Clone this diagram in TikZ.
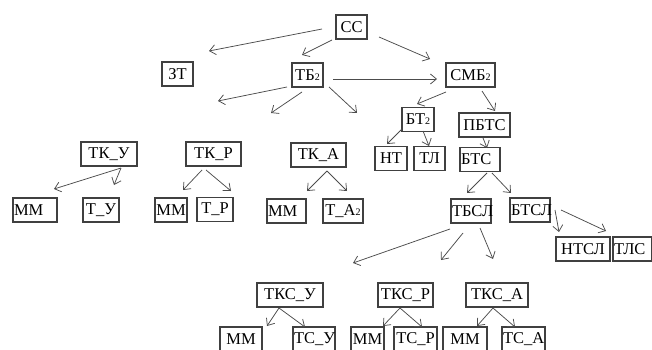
\documentclass[tikz,border=0pt]{standalone}
\usepackage{fontspec}
\setmainfont{Liberation Serif}
\usetikzlibrary{arrows.meta}
\newcommand{\subn}[1]{{\fontsize{10}{10}\selectfont #1}}

\begin{document}
\begin{tikzpicture}[x=1pt,y=-1pt,
    box/.style={draw=black!75,line width=1.2pt,inner xsep=1pt,inner ysep=0pt,minimum height=24pt,text width=#1-2pt,align=center,font=\fontsize{16.5}{16.5}\selectfont},
    lbox/.style={box=#1,align=left},
    arr/.style={draw=black!70,line width=0.75pt,-{Straight Barb[length=6pt,width=10pt]}}]
  \useasboundingbox (0,0) rectangle (652,350);
  \clip (0,0) rectangle (652,350);
  % boxes
  \node[box=31pt](cc) at (351.5,27){СС};
  \node[box=31pt](zt) at (177.5,74){ЗТ};
  \node[box=31pt](tb) at (307.5,75){ТБ\subn{2}};
  \node[box=49pt](smb) at (470.5,75){СМБ\subn{2}};
  \node[box=32pt](bt) at (418,119.5){БТ\subn{2}};
  \node[box=51pt](pbts) at (484.5,125){ПБТС};
  \node[box=32pt](nt) at (391,158.5){НТ};
  \node[box=31pt](tl) at (429.5,158.5){ТЛ};
  \node[lbox=40pt](bts) at (480,159.5){БТС};
  \node[box=56pt](tku) at (109,154){ТК\_У};
  \node[box=55pt](tkr) at (213.5,154){ТК\_Р};
  \node[box=55pt](tka) at (318.5,155){ТК\_А};
  \node[lbox=44pt](mm1) at (35,210){ММ};
  \node[box=36pt](tu) at (101,210){Т\_У};
  \node[box=32pt](mm2) at (171,210){ММ};
  \node[box=36pt](tr) at (215,209.5){Т\_Р};
  \node[lbox=39pt](mm3) at (286.5,211){ММ};
  \node[box=40pt](ta) at (343,211){Т\_А\subn{2}};
  \node[box=40pt](tbsl) at (471,211){ТБСЛ};
  \node[box=40pt](btsl) at (530,210){БТСЛ};
  \node[box=54pt](ntsl) at (583,249){НТСЛ};
  \node[lbox=39pt](tls) at (632.5,249){ТЛС};
  \node[box=66pt](tksu) at (290,295){ТКС\_У};
  \node[box=55pt](tksr) at (405.5,295){ТКС\_Р};
  \node[box=62pt](tksa) at (497,295){ТКС\_А};
  \node[box=42pt](mm4) at (241,339){ММ};
  \node[box=42pt](tsu) at (314,339){ТС\_У};
  \node[box=33pt](mm5) at (367.5,339){ММ};
  \node[box=43pt](tsr) at (415.5,339){ТС\_Р};
  \node[box=44pt](mm6) at (465,339){ММ};
  \node[box=43pt](tsa) at (523.5,339){ТС\_А};
  % arrow tips
  \coordinate (cc1) at (209,51);
  \coordinate (cc2) at (302,55);
  \coordinate (cc3) at (430,59);
  \coordinate (tb1) at (218,101);
  \coordinate (tb2) at (271,113);
  \coordinate (tb3) at (357,113);
  \coordinate (tb4) at (437,79);
  \coordinate (smb1) at (417,104);
  \coordinate (smb2) at (495,111);
  \coordinate (bt1) at (387,144);
  \coordinate (bt2) at (429,146);
  \coordinate (pbts1) at (487,148);
  \coordinate (tku1) at (54,189);
  \coordinate (tku2) at (114,185);
  \coordinate (tkr1) at (183,190);
  \coordinate (tkr2) at (231,191);
  \coordinate (tka1) at (307,191);
  \coordinate (tka2) at (347,191);
  \coordinate (bts1) at (467,193);
  \coordinate (bts2) at (511,193);
  \coordinate (tbsl1) at (353,263);
  \coordinate (tbsl2) at (441,260);
  \coordinate (tbsl3) at (493,259);
  \coordinate (btsl1) at (559,232);
  \coordinate (btsl2) at (606,231);
  \coordinate (tksu1) at (267,326);
  \coordinate (tksu2) at (305,327);
  \coordinate (tksr1) at (383,326);
  \coordinate (tksr2) at (422,327);
  \coordinate (tksa1) at (477,326);
  \coordinate (tksa2) at (515,327);
  % arrows
  \draw[arr] ([shift={(-29.5,2)}]cc.center) -- (cc1);
  \draw[arr] ([shift={(-19.5,13)}]cc.center) -- (cc2);
  \draw[arr] ([shift={(27.5,10)}]cc.center) -- (cc3);
  \draw[arr] ([shift={(-20.5,12)}]tb.center) -- (tb1);
  \draw[arr] ([shift={(-5.5,17)}]tb.center) -- (tb2);
  \draw[arr] ([shift={(21.5,12)}]tb.center) -- (tb3);
  \draw[arr] ([shift={(25.5,4)}]tb.center) -- (tb4);
  \draw[arr] ([shift={(-24.5,17)}]smb.center) -- (smb1);
  \draw[arr] ([shift={(11.5,16)}]smb.center) -- (smb2);
  \draw[arr] ([shift={(-16,9.5)}]bt.center) -- (bt1);
  \draw[arr] ([shift={(5,11.5)}]bt.center) -- (bt2);
  \draw[arr] ([shift={(-1.5,13)}]pbts.center) -- (pbts1);
  \draw[arr] ([shift={(12,14)}]tku.center) -- (tku1);
  \draw[arr] ([shift={(12,14)}]tku.center) -- (tku2);
  \draw[arr] ([shift={(-11.5,16)}]tkr.center) -- (tkr1);
  \draw[arr] ([shift={(-7.5,16)}]tkr.center) -- (tkr2);
  \draw[arr] ([shift={(8.5,16)}]tka.center) -- (tka1);
  \draw[arr] ([shift={(8.5,16)}]tka.center) -- (tka2);
  \draw[arr] ([shift={(7,13.5)}]bts.center) -- (bts1);
  \draw[arr] ([shift={(12,13.5)}]bts.center) -- (bts2);
  \draw[arr] ([shift={(-21,18)}]tbsl.center) -- (tbsl1);
  \draw[arr] ([shift={(-8,22)}]tbsl.center) -- (tbsl2);
  \draw[arr] ([shift={(9,17)}]tbsl.center) -- (tbsl3);
  \draw[arr] ([shift={(25,0)}]btsl.center) -- (btsl1);
  \draw[arr] ([shift={(31,0)}]btsl.center) -- (btsl2);
  \draw[arr] ([shift={(-11,13)}]tksu.center) -- (tksu1);
  \draw[arr] ([shift={(-11,13)}]tksu.center) -- (tksu2);
  \draw[arr] ([shift={(-5.5,13)}]tksr.center) -- (tksr1);
  \draw[arr] ([shift={(-5.5,13)}]tksr.center) -- (tksr2);
  \draw[arr] ([shift={(-4,13)}]tksa.center) -- (tksa1);
  \draw[arr] ([shift={(-4,13)}]tksa.center) -- (tksa2);
\end{tikzpicture}
\end{document}
